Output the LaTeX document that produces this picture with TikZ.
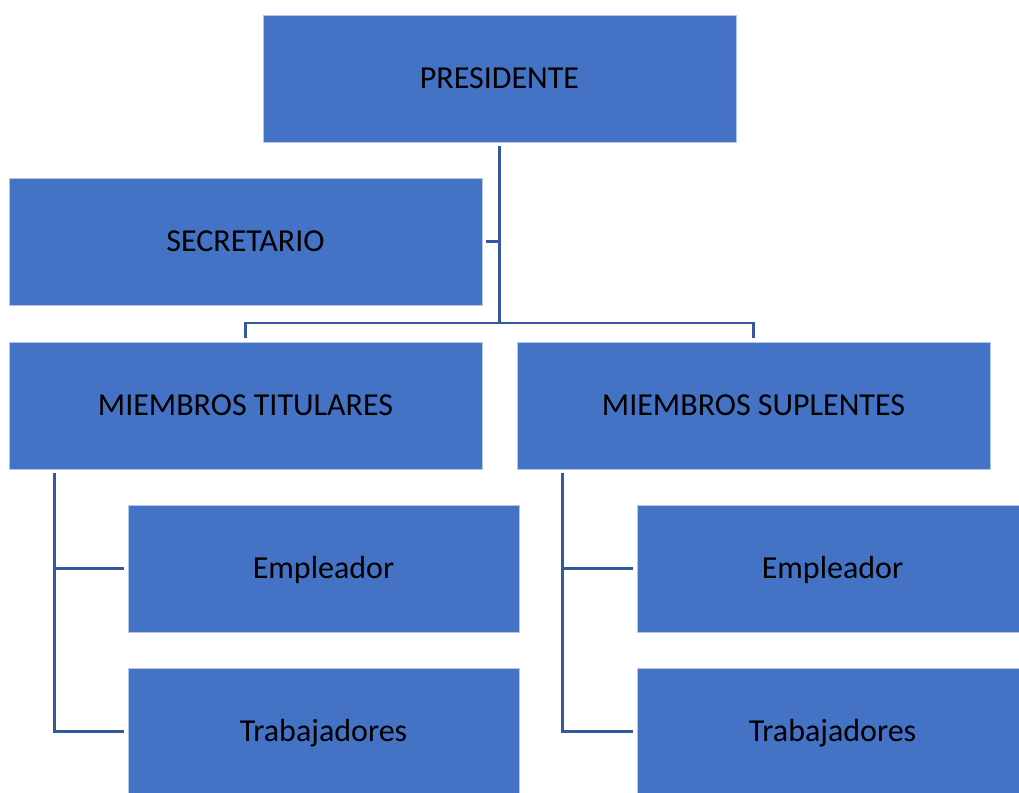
\documentclass[tikz,border=0pt]{standalone}
\usepackage{fontspec}
\setmainfont{Carlito}
\usetikzlibrary{positioning,calc}
\definecolor{boxcolor}{RGB}{68,114,196}
\definecolor{linkcolor}{RGB}{52,88,160}

\begin{document}
\begin{tikzpicture}[x=0.75pt,y=-0.75pt,
    unit/.style={draw=white!60!boxcolor, line width=0.6pt, fill=boxcolor, text=black,
      minimum width=354.75pt, minimum height=95.25pt, inner sep=0pt,
      text height=20.5pt, text depth=5pt,
      font=\fontsize{24pt}{27pt}\selectfont},
    subunit/.style={unit, minimum width=293.25pt},
    link/.style={draw=linkcolor, line width=1.7pt}]
  \useasboundingbox (0,0) rectangle (1019,792);
  % top level
  \node[unit] (pres) at (499.5,78.5) {PRESIDENTE};
  \node[unit] (sec) at (245.5,241.5) {SECRETARIO};
  % members
  \node[unit] (tit) at (245.5,405.5) {MIEMBROS TITULARES};
  \node[unit] (sup) at (753.5,405.5) {MIEMBROS SUPLENTES};
  % sub units of each group
  \node[subunit] (emp1) at (323.5,568.5) {Empleador};
  \node[subunit] (trab1) at (323.5,731.5) {Trabajadores};
  \node[subunit] (emp2) at (832.5,568.5) {Empleador};
  \node[subunit] (trab2) at (832.5,731.5) {Trabajadores};
  % trunk from the president down to the member bar
  \coordinate (bar) at (499.5,323);
  \draw[link] ([yshift=-2.5pt]pres.south) -- (pres.south |- bar);
  \draw[link] ([xshift=2.5pt]sec.east) -- (sec.east -| bar);
  \draw[link] ([yshift=3pt]tit.north) |- (sup.north |- bar) -- ([yshift=3pt]sup.north);
  % side rails of the two groups
  \coordinate (railL) at ([shift={(34.5pt,-2.5pt)}]tit.south west);
  \coordinate (railR) at ([shift={(34.5pt,-2.5pt)}]sup.south west);
  \draw[link] (railL) |- ([xshift=-2.5pt]trab1.west);
  \draw[link] ([xshift=-2.5pt]emp1.west) -- (emp1.west -| railL);
  \draw[link] (railR) |- ([xshift=-2.5pt]trab2.west);
  \draw[link] ([xshift=-2.5pt]emp2.west) -- (emp2.west -| railR);
\end{tikzpicture}
\end{document}
